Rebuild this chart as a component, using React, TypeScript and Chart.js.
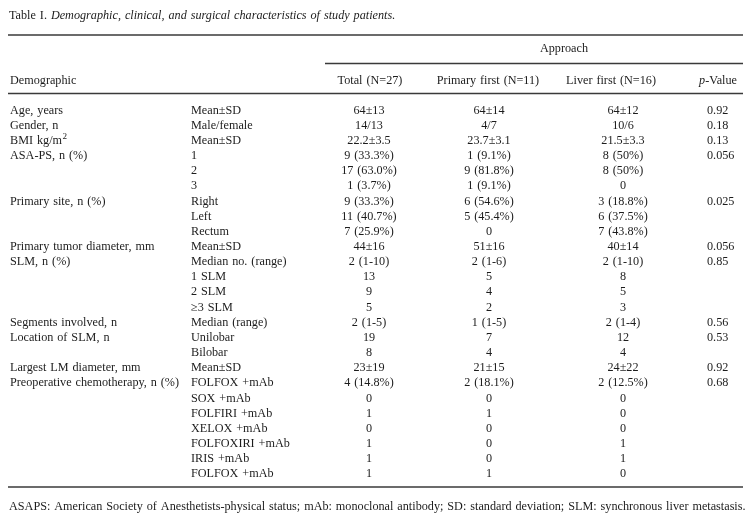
import React, { useEffect, useRef } from "react";
import { Chart, registerables } from "chart.js";

Chart.register(...registerables);

// ---------- Data ----------
const TITLE_LEAD = "Table I. ";
const TITLE_ITALIC = "Demographic, clinical, and surgical characteristics of study patients.";
const GROUP_HEADER = "Approach";
const COLUMN_HEADERS = ["Demographic", "", "Total (N=27)", "Primary first (N=11)", "Liver first (N=16)", "p-Value"];
const FOOTNOTE =
  "ASAPS: American Society of Anesthetists-physical status; mAb: monoclonal antibody; SD: standard deviation; SLM: synchronous liver metastasis.";

const characteristics = [
  "Age, years", "Gender, n", "BMI kg/m^2", "ASA-PS, n (%)", "", "",
  "Primary site, n (%)", "", "", "Primary tumor diameter, mm", "SLM, n (%)", "", "", "",
  "Segments involved, n", "Location of SLM, n", "", "Largest LM diameter, mm",
  "Preoperative chemotherapy, n (%)", "", "", "", "", "", "",
];
const measures = [
  "Mean±SD", "Male/female", "Mean±SD", "1", "2", "3", "Right", "Left", "Rectum", "Mean±SD",
  "Median no. (range)", "1 SLM", "2 SLM", "≥3 SLM", "Median (range)", "Unilobar", "Bilobar",
  "Mean±SD", "FOLFOX +mAb", "SOX +mAb", "FOLFIRI +mAb", "XELOX +mAb", "FOLFOXIRI +mAb",
  "IRIS +mAb", "FOLFOX +mAb",
];
const totalValues = [
  "64±13", "14/13", "22.2±3.5", "9 (33.3%)", "17 (63.0%)", "1 (3.7%)", "9 (33.3%)", "11 (40.7%)",
  "7 (25.9%)", "44±16", "2 (1-10)", "13", "9", "5", "2 (1-5)", "19", "8", "23±19", "4 (14.8%)",
  "0", "1", "0", "1", "1", "1",
];
const primaryFirstValues = [
  "64±14", "4/7", "23.7±3.1", "1 (9.1%)", "9 (81.8%)", "1 (9.1%)", "6 (54.6%)", "5 (45.4%)",
  "0", "51±16", "2 (1-6)", "5", "4", "2", "1 (1-5)", "7", "4", "21±15", "2 (18.1%)",
  "0", "1", "0", "0", "0", "1",
];
const liverFirstValues = [
  "64±12", "10/6", "21.5±3.3", "8 (50%)", "8 (50%)", "0", "3 (18.8%)", "6 (37.5%)",
  "7 (43.8%)", "40±14", "2 (1-10)", "8", "5", "3", "2 (1-4)", "12", "4", "24±22", "2 (12.5%)",
  "0", "0", "0", "1", "1", "0",
];
const pValues = [
  "0.92", "0.18", "0.13", "0.056", "", "", "0.025", "", "", "0.056", "0.85", "", "", "",
  "0.56", "0.53", "", "0.92", "0.68", "", "", "", "", "", "",
];

// ---------- Layout (scale units == pixels) ----------
const W = 754;
const H = 524;
const FONT = '"Liberation Serif", "Times New Roman", serif';
const FS = 12.2;
const WORD_SPACING = "0.9px";
const TEXT_COLOR = "#1c1c1c";
const RULE_COLOR = "#3a3a3a";
const LEFT = 9;
const RIGHT = 743;
const COL_X = [10, 191, 369, 489, 623, 707];
const COL_ALIGN: CanvasTextAlign[] = ["left", "left", "center", "center", "center", "left"];
const HEAD_X = [10, 0, 370, 488, 611, 718];
const TITLE_Y = 15.5;
const RULE_TOP = 35;
const GROUP_Y = 48.5;
const GROUP_X = 564;
const GROUP_RULE_Y = 63.5;
const GROUP_RULE_X0 = 325;
const HEADER_Y = 80.5;
const HEADER_RULE_Y = 93.5;
const ROW0_Y = 110.5;
const ROW_H = 15.15;
const BOTTOM_RULE_Y = 487;
const FOOT_Y = 507;

const tablePlugin = {
  id: "tablePlugin",
  afterDraw(chart: any) {
    const ctx: any = chart.ctx;
    const xs = chart.scales.x;
    const ys = chart.scales.y;
    const px = (v: number) => xs.getPixelForValue(v);
    const py = (v: number) => ys.getPixelForValue(v);

    ctx.save();
    ctx.fillStyle = TEXT_COLOR;
    ctx.textBaseline = "middle";
    if ("wordSpacing" in ctx) ctx.wordSpacing = WORD_SPACING;

    const font = (style = "") => `${style} ${FS}px ${FONT}`.trim();

    // Title
    ctx.font = font();
    ctx.textAlign = "left";
    ctx.fillText(TITLE_LEAD, px(LEFT), py(TITLE_Y));
    const leadW = ctx.measureText(TITLE_LEAD).width;
    ctx.font = font("italic");
    ctx.fillText(TITLE_ITALIC, px(LEFT) + leadW, py(TITLE_Y));

    // Rules
    ctx.strokeStyle = RULE_COLOR;
    ctx.lineWidth = 1.3;
    const rule = (x0: number, x1: number, y: number) => {
      ctx.beginPath();
      ctx.moveTo(px(x0), py(y));
      ctx.lineTo(px(x1), py(y));
      ctx.stroke();
    };
    rule(LEFT - 1, RIGHT, RULE_TOP);
    rule(GROUP_RULE_X0, RIGHT, GROUP_RULE_Y);
    rule(LEFT - 1, RIGHT, HEADER_RULE_Y);
    rule(LEFT - 1, RIGHT, BOTTOM_RULE_Y);

    // Group header
    ctx.font = font();
    ctx.textAlign = "center";
    ctx.fillText(GROUP_HEADER, px(GROUP_X), py(GROUP_Y));

    // Column headers
    COLUMN_HEADERS.forEach((h, i) => {
      if (!h) return;
      if (h.startsWith("p-")) {
        ctx.font = font("italic");
        const pW = ctx.measureText("p").width;
        ctx.font = font();
        const restW = ctx.measureText(h.slice(1)).width;
        const x0 = px(HEAD_X[i]) - (pW + restW) / 2;
        ctx.textAlign = "left";
        ctx.font = font("italic");
        ctx.fillText("p", x0, py(HEADER_Y));
        ctx.font = font();
        ctx.fillText(h.slice(1), x0 + pW, py(HEADER_Y));
        return;
      }
      ctx.font = font();
      ctx.textAlign = i === 0 ? "left" : "center";
      ctx.fillText(h, px(HEAD_X[i]), py(HEADER_Y));
    });

    // Body
    const columns = [characteristics, measures, totalValues, primaryFirstValues, liverFirstValues, pValues];
    ctx.font = font();
    columns.forEach((col, c) => {
      ctx.textAlign = COL_ALIGN[c];
      col.forEach((txt, r) => {
        if (!txt) return;
        const y = py(ROW0_Y + r * ROW_H);
        if (txt.includes("^")) {
          const [base, sup] = txt.split("^");
          ctx.textAlign = "left";
          ctx.font = font();
          ctx.fillText(base, px(COL_X[c]), y);
          const bw = ctx.measureText(base).width;
          ctx.font = `${FS * 0.75}px ${FONT}`;
          ctx.fillText(sup, px(COL_X[c]) + bw + 0.5, y - 4);
          ctx.font = font();
          ctx.textAlign = COL_ALIGN[c];
          return;
        }
        ctx.fillText(txt, px(COL_X[c]), y);
      });
    });

    // Footnote
    ctx.textAlign = "left";
    ctx.font = font();
    ctx.fillText(FOOTNOTE, px(LEFT), py(FOOT_Y));
    ctx.restore();
  },
};

export default function App() {
  const canvasRef = useRef<HTMLCanvasElement | null>(null);

  useEffect(() => {
    if (!canvasRef.current) return;
    const chart = new Chart(canvasRef.current, {
      type: "scatter",
      data: { datasets: [{ data: [], pointRadius: 0 }] },
      options: {
        animation: false,
        responsive: false,
        devicePixelRatio: 1,
        layout: { padding: 0 },
        plugins: { legend: { display: false }, tooltip: { enabled: false } },
        scales: {
          x: { type: "linear", min: 0, max: W, display: false },
          y: { type: "linear", min: 0, max: H, reverse: true, display: false },
        },
      },
      plugins: [tablePlugin],
    });
    return () => chart.destroy();
  }, []);

  return (
    <div style={{ position: "fixed", left: 0, top: 0, width: W, height: H, background: "#fff" }}>
      <canvas ref={canvasRef} width={W} height={H} style={{ width: W, height: H, display: "block" }} />
    </div>
  );
}
